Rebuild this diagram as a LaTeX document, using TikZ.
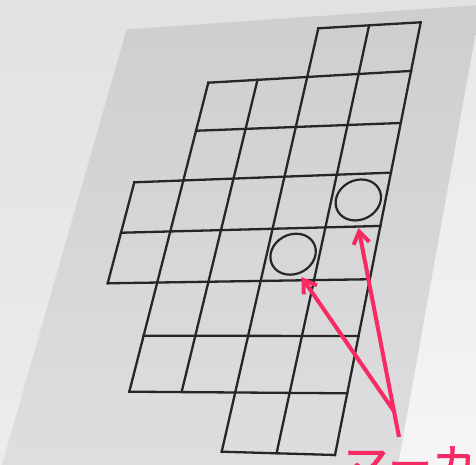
\documentclass[tikz,border=0pt]{standalone}
\usepackage{fontspec}
\newfontfamily\cjk[FakeBold=1.5]{Noto Sans CJK JP}
\usetikzlibrary{arrows.meta}
\definecolor{marker}{RGB}{248,42,100}
\definecolor{gridc}{RGB}{38,38,38}
\tikzset{
  gridline/.style={draw=gridc, line width=2.3pt, line cap=rect},
  ring/.style={draw=gridc, line width=2.2pt},
  pointer/.style={draw=marker, line width=4pt, -{Straight Barb[length=12pt, width=16pt]}},
  labeltext/.style={text=marker, font=\cjk\fontsize{44}{44}\selectfont, inner sep=0pt, anchor=base west}
}
\begin{document}
\begin{tikzpicture}[x=1pt, y=-1pt]
\useasboundingbox (0,0) rectangle (476,465);
\clip (0,0) rectangle (476,465);
% plane corners
\coordinate (pl1) at (126.7,29.3);
\coordinate (pl2) at (476,5.4);
\coordinate (pl3) at (476,31);
\coordinate (pl4) at (398,465);
\coordinate (pl5) at (2,465);
% background
\shade[top color={rgb,255:red,226;green,226;blue,227}, bottom color={rgb,255:red,236;green,235;blue,238}] (0,0) rectangle (476,465);
\shade[top color={rgb,255:red,232;green,232;blue,233}, bottom color={rgb,255:red,245;green,245;blue,246}] (pl3) -- (476,465) -- (pl4) -- cycle;
% plane
\shade[top color={rgb,255:red,206;green,206;blue,207}, bottom color={rgb,255:red,222;green,222;blue,224}] (pl1) -- (pl2) -- (pl3) -- (pl4) -- (pl5) -- cycle;
% column lines
\coordinate (c0-a) at (134.3,182.3); \coordinate (c0-b) at (107.7,283.3);
\coordinate (c1-a) at (208.3,82.7);  \coordinate (c1-b) at (129.3,391.7);
\coordinate (c2-a) at (257.3,80.7);  \coordinate (c2-b) at (181.7,391.7);
\coordinate (c3-a) at (318.3,28.3);  \coordinate (c3-b) at (221.7,451.7);
\coordinate (c4-a) at (369,25.7);    \coordinate (c4-b) at (276.7,452.7);
\coordinate (c5-a) at (420.7,22.3);  \coordinate (c5-b) at (335,455);
% row lines
\coordinate (r0-a) at (318.3,28.3);  \coordinate (r0-b) at (420.7,22.3);
\coordinate (r1-a) at (208.3,82.7);  \coordinate (r1-b) at (410,71);
\coordinate (r2-a) at (197.3,130.7); \coordinate (r2-b) at (400,123);
\coordinate (r3-a) at (134.3,182.3); \coordinate (r3-b) at (390,172.7);
\coordinate (r4-a) at (122.3,232.7); \coordinate (r4-b) at (378.3,226);
\coordinate (r5-a) at (107.7,283.3); \coordinate (r5-b) at (366.7,279.3);
\coordinate (r6-a) at (145,335.7);   \coordinate (r6-b) at (356,336);
\coordinate (r7-a) at (129.3,391.7); \coordinate (r7-b) at (346.7,393.3);
\coordinate (r8-a) at (221.7,451.7); \coordinate (r8-b) at (335,455);
% lattice points
\foreach \i in {0,...,8}{
  \foreach \j in {0,...,5}{
    \coordinate (p\i\j) at (intersection of r\i-a--r\i-b and c\j-a--c\j-b);
  }
}
% grid
\foreach \i/\a/\b in {0/3/5,1/1/5,2/1/5,3/0/5,4/0/5,5/0/5,6/1/5,7/1/5,8/3/5}
  \draw[gridline] (p\i\a) -- (p\i\b);
\foreach \j/\a/\b in {0/3/5,1/1/7,2/1/7,3/0/8,4/0/8,5/0/8}
  \draw[gridline] (p\a\j) -- (p\b\j);
% markers (circles)
\coordinate (m1) at (intersection of p34--p45 and p35--p44);
\coordinate (m2) at (intersection of p43--p54 and p44--p53);
\draw[ring, shift={(m1)}, xslant=0.15] (0,0) ellipse [x radius=22.5pt, y radius=20.5pt];
\draw[ring, shift={(m2)}, xslant=0.15] (0,0) ellipse [x radius=22.5pt, y radius=20.5pt];
% label
\node[labeltext] (lbl) at (344,481) {マーカー};
% pointers
\coordinate (src1) at (399,437);
\coordinate (src2) at (394.5,412);
\coordinate (tip1) at (358.5,228);
\coordinate (tip2) at (301.5,277);
\draw[pointer] (src1) -- (tip1);
\draw[pointer] (src2) -- (tip2);
\end{tikzpicture}
\end{document}
